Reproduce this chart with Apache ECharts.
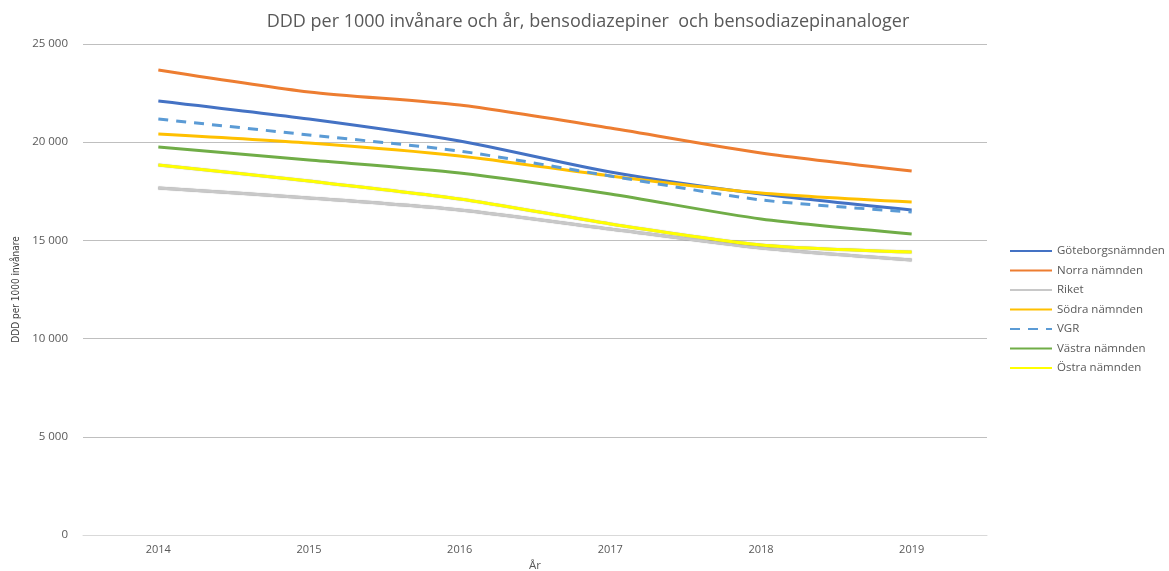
<!DOCTYPE html>
<html>
<head>
<meta charset="utf-8">
<script src="https://cdn.jsdelivr.net/npm/echarts@6/dist/echarts.min.js"></script>
<style>
  html, body { margin: 0; padding: 0; background: #fff; }
  #chart { width: 1169px; height: 571px; }
</style>
</head>
<body>
<div id="chart"></div>
<script>
const years = ["2014", "2015", "2016", "2017", "2018", "2019"];

const goteborg = [22100, 21180, 20060, 18480, 17360, 16550];
const norra = [23680, 22560, 21890, 20720, 19450, 18530];
const riket = [17670, 17160, 16550, 15580, 14610, 14000];
const sodra = [20420, 19960, 19300, 18280, 17410, 16950];
const vgr = [21180, 20370, 19550, 18280, 17060, 16450];
const vastra = [19750, 19090, 18430, 17360, 16090, 15330];
const ostra = [18840, 18020, 17110, 15840, 14770, 14410];

const chart = echarts.init(document.getElementById("chart"));

// same look for every line, only colour/dash differs
function line(name, data, color, extra) {
  return Object.assign({
    name: name,
    type: "line",
    data: data,
    symbol: "none",
    smooth: 0.25,
    lineStyle: { color: color, width: 3 },
    itemStyle: { color: color },
  }, extra || {});
}

const font = "'Open Sans', 'DejaVu Sans', sans-serif";

chart.setOption({
  animation: false,
  title: {
    text: "DDD per 1000 invånare och år, bensodiazepiner  och bensodiazepinanaloger",
    left: 583,
    textAlign: "center",
    top: 8,
    textStyle: { fontFamily: font, fontSize: 18, fontWeight: "normal", color: "#595959" },
  },
  grid: { left: 83, right: 182, top: 44, bottom: 36, outerBoundsMode: "none" },
  legend: {
    orient: "vertical",
    left: 1004,
    top: 240,
    itemWidth: 42,
    itemHeight: 12,
    itemGap: 7.5,
    itemStyle: { opacity: 0 },
    textStyle: { fontFamily: font, fontSize: 11.5, color: "#595959" },
  },
  xAxis: {
    type: "category",
    data: years,
    boundaryGap: true,
    name: "År",
    nameLocation: "middle",
    nameGap: 24,
    nameTextStyle: { fontFamily: font, fontSize: 11.5, color: "#595959" },
    axisLine: { lineStyle: { color: "#d9d9d9" } },
    axisTick: { show: false },
    axisLabel: { fontFamily: font, fontSize: 11, color: "#595959", margin: 9 },
  },
  yAxis: {
    type: "value",
    min: 0,
    max: 25000,
    interval: 5000,
    name: "DDD per 1000 invånare",
    nameLocation: "middle",
    nameGap: 57,
    nameTextStyle: { fontFamily: "'DejaVu Sans Condensed', 'Liberation Sans Narrow', sans-serif", fontSize: 10, color: "#404040" },
    axisLine: { show: false },
    axisTick: { show: false },
    splitLine: { lineStyle: { color: "#bfbfbf", width: 1 } },
    axisLabel: {
      fontFamily: font, fontSize: 11.5, color: "#595959", margin: 15,
      formatter: (v) => String(v).replace(/\B(?=(\d{3})+(?!\d))/g, " "),
    },
  },
  series: [
    line("Göteborgsnämnden", goteborg, "#4472C4"),
    line("Norra nämnden", norra, "#ED7D31"),
    line("Riket", riket, "#A5A5A5", {
      lineStyle: { color: "#C8C8C8", width: 3, shadowColor: "rgba(0,0,0,0.4)", shadowBlur: 1 },
    }),
    line("Södra nämnden", sodra, "#FFC000"),
    line("VGR", vgr, "#5B9BD5", { lineStyle: { color: "#5B9BD5", width: 3, type: [10, 8] } }),
    line("Västra nämnden", vastra, "#70AD47"),
    line("Östra nämnden", ostra, "#FFFF00", {
      lineStyle: { color: "#FFFF00", width: 3, shadowColor: "rgba(0,0,0,0.35)", shadowBlur: 1 },
    }),
  ],
});
</script>
</body>
</html>
